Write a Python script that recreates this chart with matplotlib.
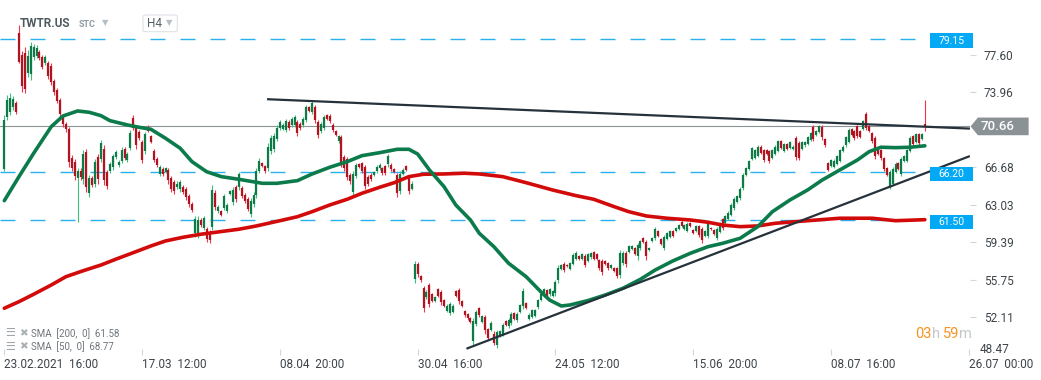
import numpy as np
import matplotlib
matplotlib.use("Agg")
import matplotlib.pyplot as plt
from matplotlib.patches import Rectangle, Polygon, FancyBboxPatch

plt.rcParams['font.family'] = ['Roboto', 'DejaVu Sans']
plt.rcParams['lines.scale_dashes'] = False

# H4 candles, TWTR.US
opens = [66.5, 71.6, 72.1, 72.5, 72.9, 79.7, 77.6, 77.8, 75.9, 75.8,
         77.4, 77.5, 77.9, 77.4, 76.8, 76.8, 76.5, 75.1, 74.2, 73.2,
         71.6, 70.9, 70.4, 67.6, 67.2, 65.6, 66.3, 65.5, 68.2, 64.2,
         65.6, 65.1, 67.7, 67.5, 68.5, 66.2, 66.3, 66.7, 67.7, 66.9,
         67.3, 68.5, 67.4, 68.6, 71.5, 70.5, 70.1, 69.1, 68.3, 70.6,
         69.7, 68.3, 67.5, 66.0, 66.5, 66.2, 66.4, 65.6, 65.2, 64.8,
         64.6, 64.8, 64.6, 63.9, 63.1, 60.3, 60.2, 61.5, 60.8, 60.7,
         60.4, 60.9, 64.2, 62.4, 62.4, 62.7, 62.4, 64.1, 63.3, 64.8,
         64.8,
         64.7, 64.0, 63.6, 62.1, 63.1, 64.0, 66.3, 67.1, 66.8, 66.6,
         68.3, 68.5, 69.4, 70.5, 70.4, 70.3, 71.1, 70.8, 70.8, 71.1,
         70.9, 70.8, 71.3, 72.5, 72.1, 72.5, 71.1, 70.2, 70.5, 71.8,
         71.7, 70.8, 70.2, 69.2, 69.6, 67.7, 67.5, 65.9, 64.3, 65.8,
         67.0, 67.1, 66.7, 65.7, 65.9, 65.9, 66.3, 66.6, 66.6, 66.8,
         67.0, 66.9, 66.5, 65.9, 64.4, 66.0, 66.8, 65.6, 64.6,
         55.8, 57.3, 56.1, 54.9, 54.1, 55.2, 54.3, 53.7, 54.8, 54.5,
         53.8, 52.7, 52.5, 52.6, 54.6, 54.7, 53.7, 52.7, 52.4,
         52.0, 49.8, 51.4, 53.0, 51.6, 52.1, 50.9, 50.8, 50.5, 49.4,
         50.3, 50.5, 51.7, 51.2, 51.5, 52.5, 51.8, 52.6, 53.2, 53.5,
         51.9, 52.1, 52.2, 53.1, 53.8, 54.2, 54.7, 54.3, 54.2, 54.4,
         55.7, 56.8, 57.3, 57.2, 56.8, 57.3, 57.8, 58.0, 57.8, 58.0,
         57.6, 57.9, 58.4, 58.2, 57.7, 57.6, 57.6, 57.4, 56.9, 56.9,
         56.9, 56.2, 57.4, 58.3, 58.4, 58.7, 58.8, 58.0, 58.8, 59.8,
         59.4, 58.6, 59.5, 59.8, 60.5, 59.7, 58.8, 59.7, 59.9, 60.5,
         60.5, 60.7, 61.4, 60.7, 60.5, 61.3, 60.6, 60.5, 61.0,
         60.7, 60.0, 60.0, 60.8, 60.6, 59.8, 60.4, 61.6, 61.3, 61.6,
         62.0, 62.7, 63.3, 63.7, 64.7, 65.9, 66.5, 67.5, 67.6, 67.8,
         68.7, 68.4, 68.4, 68.3, 67.6, 68.0, 68.3, 69.2, 68.3, 68.9,
         68.6, 68.5, 69.5, 69.0, 68.5, 68.8, 68.9, 69.3, 70.6, 69.8,
         70.1, 70.6, 69.4, 67.1, 66.8, 66.7, 67.0, 67.3, 68.3, 68.8,
         69.1, 70.4, 70.2, 70.7, 70.2, 70.4, 71.9, 70.7, 70.0, 69.5,
         68.4, 68.4, 67.6, 66.6, 64.8, 65.1, 66.2, 67.1, 66.0, 67.3,
         67.3, 68.3, 69.7, 69.1, 69.9, 69.4, 70.9]

highs = [71.8, 73.7, 73.9, 73.6, 73.1, 80.5, 78.0, 78.4, 78.1, 78.9,
         78.7, 78.6, 78.1, 77.6, 77.6, 77.0, 76.8, 75.3, 74.4, 73.4,
         71.8, 71.1, 70.6, 67.9, 67.5, 66.6, 66.6, 68.4, 68.5, 65.9,
         65.8, 67.5, 68.0, 69.3, 68.8, 66.4, 67.2, 68.0, 68.4, 67.4,
         68.7, 68.7, 68.2, 70.3, 71.8, 70.8, 70.3, 69.3, 70.1, 70.8,
         69.8, 68.5, 67.7, 66.9, 66.7, 66.7, 66.6, 65.8, 65.4, 65.3,
         65.4, 65.0, 64.8, 64.1, 63.3, 61.9, 61.9, 61.7, 61.9, 60.9,
         60.6, 65.0, 64.5, 63.0, 62.5, 64.1, 63.2, 64.5, 64.8, 65.0,
         66.2,
         64.9, 64.2, 63.8, 63.7, 64.3, 66.6, 67.6, 67.2, 66.9, 69.0,
         69.8, 70.0, 70.8, 71.3, 71.0, 71.4, 71.3, 71.6, 71.8, 71.3,
         71.1, 71.6, 72.7, 72.6, 73.1, 72.7, 71.3, 71.1, 71.8, 71.9,
         71.9, 71.0, 70.3, 69.8, 69.8, 67.9, 67.7, 66.1, 66.3, 67.1,
         67.1, 67.2, 66.9, 65.9, 66.1, 66.3, 66.9, 67.1, 66.7, 66.9,
         68.0, 67.1, 66.6, 66.1, 66.3, 66.6, 66.9, 65.8, 65.3,
         57.6, 57.5, 56.2, 55.1, 54.7, 55.4, 54.4, 54.2, 54.9, 54.7,
         53.9, 53.4, 53.6, 53.4, 54.7, 54.9, 53.8, 52.8, 52.5,
         52.1, 52.0, 52.8, 53.1, 52.3, 52.3, 51.0, 51.7, 50.7, 50.8,
         50.8, 51.5, 51.8, 52.0, 52.6, 52.6, 52.6, 53.4, 54.9, 53.6,
         52.5, 52.9, 52.9, 53.9, 54.4, 54.9, 54.8, 54.9, 54.7, 55.7,
         57.2, 57.3, 57.5, 57.3, 57.5, 58.3, 58.5, 58.1, 58.3, 58.2,
         58.3, 58.4, 58.5, 58.3, 57.8, 57.8, 57.7, 57.5, 57.3, 57.0,
         57.0, 58.6, 58.5, 58.5, 59.1, 59.1, 58.9, 59.3, 59.6, 59.9,
         59.6, 58.9, 59.9, 60.9, 60.6, 59.8, 60.1, 60.4, 60.6, 60.6,
         60.9, 61.2, 61.5, 61.2, 61.4, 61.4, 60.7, 61.1, 61.1,
         60.9, 60.6, 61.5, 60.9, 60.7, 60.9, 61.4, 61.7, 62.0, 62.4,
         63.2, 63.8, 64.0, 64.8, 66.1, 66.7, 67.4, 68.7, 68.5, 68.8,
         68.8, 68.5, 68.5, 68.4, 68.5, 68.8, 69.3, 69.3, 69.0, 69.0,
         69.2, 68.8, 69.7, 69.2, 69.2, 69.2, 69.7, 70.1, 70.8, 70.3,
         70.8, 70.8, 69.5, 67.2, 67.5, 67.5, 67.9, 68.5, 68.8, 69.7,
         70.5, 70.5, 70.3, 70.8, 70.3, 71.3, 72.1, 70.8, 70.1, 69.7,
         68.5, 68.5, 67.7, 66.7, 66.4, 66.7, 67.2, 67.2, 67.7, 67.9,
         68.5, 69.7, 69.8, 70.0, 70.0, 70.0, 73.2]

lows = [66.3, 71.3, 71.8, 72.3, 71.9, 76.8, 74.0, 73.9, 75.5, 75.2,
        77.1, 77.3, 77.1, 76.2, 76.6, 75.3, 74.7, 73.7, 72.9, 71.6,
        70.6, 70.1, 66.7, 66.3, 65.4, 61.4, 65.4, 65.1, 64.3, 63.8,
        64.8, 64.8, 65.1, 67.2, 65.0, 64.6, 66.1, 66.4, 67.5, 66.7,
        67.1, 67.4, 67.2, 68.4, 70.3, 68.5, 69.3, 67.1, 68.0, 70.1,
        69.0, 67.2, 66.7, 65.8, 65.8, 66.1, 65.1, 64.3, 64.1, 64.6,
        64.3, 64.1, 63.5, 62.8, 62.3, 59.9, 59.8, 60.9, 60.6, 59.4,
        59.3, 60.6, 62.5, 62.2, 61.9, 62.5, 62.2, 64.0, 63.0, 63.3,
        64.5,
        63.7, 63.2, 62.4, 61.8, 62.8, 63.7, 66.1, 66.7, 66.1, 66.3,
        68.0, 68.2, 69.2, 70.3, 70.3, 70.1, 70.3, 70.6, 70.6, 69.7,
        70.3, 70.6, 71.1, 72.1, 71.9, 71.0, 69.5, 70.0, 70.3, 71.3,
        71.0, 70.1, 69.7, 69.0, 66.7, 66.3, 65.4, 65.1, 64.0, 65.6,
        66.6, 66.1, 64.6, 64.9, 65.3, 65.8, 66.1, 66.4, 65.9, 65.9,
        66.7, 66.3, 66.1, 63.8, 64.1, 65.9, 66.3, 64.1, 64.5,
        55.4, 56.0, 55.5, 52.6, 53.9, 53.1, 53.6, 53.6, 54.1, 53.3,
        53.1, 52.6, 52.3, 52.5, 54.1, 53.4, 53.1, 52.1, 51.8,
        51.5, 49.4, 51.2, 52.1, 51.5, 50.5, 49.9, 50.7, 49.4, 49.1,
        50.2, 50.3, 51.2, 51.0, 51.3, 51.8, 51.6, 52.5, 52.9, 52.9,
        51.8, 52.0, 52.1, 52.9, 53.7, 54.1, 54.1, 54.2, 54.1, 54.2,
        55.4, 56.7, 56.5, 57.0, 56.7, 57.2, 57.7, 57.7, 57.7, 57.0,
        57.5, 57.8, 57.7, 57.7, 56.7, 56.2, 57.2, 56.7, 56.8, 56.5,
        55.9, 55.9, 57.2, 57.0, 58.3, 58.6, 58.1, 57.7, 58.6, 59.3,
        57.7, 58.5, 59.4, 59.6, 59.9, 59.1, 58.6, 59.6, 59.8, 59.9,
        60.4, 60.6, 60.9, 60.6, 60.4, 60.9, 60.2, 60.4, 59.9,
        59.3, 59.9, 59.8, 60.6, 60.1, 59.6, 60.3, 60.6, 61.2, 61.5,
        61.9, 62.5, 63.2, 63.5, 64.5, 65.8, 66.4, 67.4, 67.5, 67.7,
        68.0, 67.2, 67.9, 67.1, 67.5, 67.9, 68.2, 68.5, 68.2, 68.4,
        68.5, 68.4, 67.4, 67.4, 68.4, 68.7, 68.8, 69.2, 69.2, 69.7,
        70.0, 69.3, 68.7, 66.3, 66.7, 66.6, 66.9, 67.2, 68.2, 68.7,
        69.0, 69.7, 69.3, 69.5, 69.5, 70.3, 70.3, 70.1, 69.0, 67.5,
        67.9, 67.4, 66.3, 65.8, 64.6, 65.0, 66.1, 66.4, 65.8, 67.2,
        67.2, 68.2, 68.8, 69.0, 68.8, 69.3, 70.2]

closes = [71.3, 73.2, 73.4, 73.3, 72.1, 76.9, 74.6, 74.3, 77.5, 78.5,
          78.4, 78.3, 77.3, 76.4, 77.4, 75.6, 75.0, 74.0, 73.1, 71.9,
          70.9, 70.4, 67.2, 66.6, 65.8, 66.3, 65.7, 68.0, 64.8, 65.6,
          65.0, 67.2, 65.5, 69.0, 65.4, 64.9, 67.0, 67.8, 68.2, 67.2,
          68.4, 67.6, 68.0, 70.0, 70.5, 68.8, 69.5, 67.4, 69.9, 70.2,
          69.1, 67.4, 66.9, 66.7, 66.0, 66.6, 65.4, 64.6, 64.4, 65.1,
          65.2, 64.3, 63.8, 63.1, 62.5, 61.6, 61.5, 61.1, 61.7, 59.7,
          59.6, 64.5, 62.8, 62.8, 62.0, 63.9, 63.0, 64.4, 64.5, 63.6,
          66.0,
          63.9, 63.4, 62.6, 63.4, 64.0, 66.3, 67.3, 66.8, 66.3, 68.7,
          69.5, 69.7, 70.5, 71.1, 70.8, 71.2, 70.5, 71.4, 71.6, 70.0,
          70.5, 71.4, 72.5, 72.2, 72.9, 71.3, 69.8, 70.9, 71.6, 71.4,
          71.2, 70.3, 69.8, 69.7, 67.1, 66.6, 65.7, 65.3, 66.0, 66.9,
          66.7, 66.3, 64.9, 65.1, 65.5, 66.2, 66.7, 66.9, 66.1, 66.1,
          67.8, 66.5, 66.2, 64.2, 66.0, 66.4, 66.4, 64.4, 65.1,
          57.3, 56.3, 55.7, 53.0, 54.5, 53.4, 53.7, 54.1, 54.2, 53.6,
          53.2, 53.2, 53.4, 53.2, 54.2, 53.7, 53.2, 52.3, 52.0,
          51.6, 51.7, 52.6, 52.3, 52.2, 50.8, 50.1, 51.5, 49.6, 50.6,
          50.7, 51.3, 51.3, 51.8, 52.4, 51.9, 52.4, 53.3, 54.6, 53.0,
          52.3, 52.8, 52.8, 53.8, 54.3, 54.8, 54.2, 54.8, 54.6, 55.5,
          56.9, 57.2, 56.7, 57.1, 57.4, 58.1, 58.3, 57.8, 58.2, 57.2,
          58.2, 58.3, 57.8, 57.8, 56.9, 56.5, 57.3, 56.9, 57.2, 56.6,
          56.1, 58.3, 58.3, 57.3, 59.0, 59.0, 58.2, 59.1, 59.5, 59.4,
          58.0, 58.8, 59.8, 60.7, 60.0, 59.2, 59.9, 60.3, 60.5, 60.0,
          60.8, 61.1, 61.0, 61.1, 61.2, 61.0, 60.3, 61.0, 60.1,
          59.6, 60.5, 61.3, 60.7, 60.2, 60.7, 61.2, 60.8, 61.9, 62.2,
          63.0, 63.6, 63.9, 64.6, 65.9, 66.6, 67.3, 68.6, 68.4, 68.7,
          68.1, 67.4, 68.0, 67.3, 68.4, 68.7, 69.2, 68.6, 68.9, 68.5,
          69.1, 68.7, 67.7, 67.6, 69.1, 69.1, 69.6, 70.0, 69.4, 70.2,
          70.7, 69.6, 68.8, 66.4, 67.4, 67.3, 67.8, 68.4, 68.7, 69.6,
          70.3, 69.8, 69.5, 69.7, 69.6, 71.2, 70.5, 70.2, 69.2, 67.8,
          68.0, 67.6, 66.5, 65.9, 66.2, 66.5, 67.0, 66.5, 67.5, 67.8,
          68.4, 69.5, 68.9, 69.9, 69.0, 69.9, 70.66]

# moving averages sampled along the bar index
sma50_idx = [0, 5, 10, 16, 20, 25, 29, 33, 36, 42, 46, 50, 55, 60, 64, 69, 74, 80, 88, 93,
             100, 105, 111, 117, 122, 128, 134, 138, 141, 145, 150, 154, 159, 162, 167, 172, 178, 183, 186, 190,
             193, 199, 205, 211, 217, 222, 228, 234, 240, 245, 251, 257, 262, 268, 274, 279, 285, 291, 295, 299,
             304, 309, 314]
sma50_val = [63.43, 65.77, 68.04, 70.63, 71.67, 72.16, 72.03, 71.70, 71.22, 70.80,
             70.57, 70.38, 69.50, 68.53, 67.23, 66.25, 65.77, 65.51, 65.12, 65.12,
             65.38, 66.03, 66.68, 67.23, 67.81, 68.10, 68.43, 68.43, 67.97, 66.42,
             64.79, 63.01, 61.55, 60.26, 58.95, 57.34, 56.03, 54.57, 53.76, 53.18,
             53.28, 53.70, 54.25, 54.90, 55.78, 56.68, 57.56, 58.31, 58.95, 59.28,
             59.77, 60.90, 62.36, 63.50, 64.47, 65.44, 66.42, 67.39, 68.20, 68.63,
             68.59, 68.63, 68.77]
sma200_idx = [0, 5, 10, 16, 21, 27, 33, 38, 44, 50, 55, 61, 67, 72, 80, 86, 94, 100, 105, 111,
              117, 122, 128, 133, 138, 143, 150, 157, 162, 170, 178, 187, 195, 201, 208, 213, 219, 226, 234, 240,
              245, 251, 257, 263, 274, 285, 296, 304, 314]
sma200_val = [52.96, 53.60, 54.32, 55.22, 56.03, 56.62, 57.17, 57.73, 58.37, 59.02,
              59.51, 59.87, 60.16, 60.35, 60.65, 60.97, 61.48, 61.87, 62.36, 63.01,
              63.57, 64.15, 64.73, 65.18, 65.77, 66.00, 66.03, 66.10, 66.03, 65.77,
              65.18, 64.47, 63.92, 63.57, 62.85, 62.36, 61.94, 61.72, 61.55, 61.33,
              61.06, 60.90, 60.97, 61.23, 61.48, 61.72, 61.72, 61.48, 61.58]

# drawn trend lines and levels
resist_idx = [90, 329]
resist_val = [73.30, 70.45]
support_idx = [158, 329]
support_val = [49.06, 67.73]
levels = [79.15, 66.20, 61.50]
last_price = 70.66

ytick_vals = [77.60, 73.96, 66.68, 63.03, 59.39, 55.75, 52.11]
xtick_idx = [0, 47, 94, 141, 188, 235, 282, 329]
xtick_labels = ['23.02.2021  16:00', '17.03  12:00', '08.04  20:00', '30.04  16:00',
                '24.05  12:00', '15.06  20:00', '08.07  16:00', '26.07  00:00']

W, H = 1041, 380


def fx(px):
    return px / W


def fy(py):
    return 1 - py / H


fig = plt.figure(figsize=(W / 100, H / 100), dpi=100)
fig.patch.set_facecolor('white')
ax = fig.add_axes([0, fy(355.1), fx(970), 355.1 / H])
ax.set_xlim(-1.47, 329.4)
ax.set_ylim(48.40, 82.96)
for s in ax.spines.values():
    s.set_visible(False)

# candles
x = np.arange(len(closes))
o = np.array(opens)
c = np.array(closes)
up = c >= o
wick_col = np.where(up, '#3cbf7c', '#f5334a')
body_col = np.where(up, '#0e7a47', '#b0141f')
ax.vlines(x, lows, highs, colors=wick_col, lw=0.8, zorder=2)
ax.vlines(x, np.minimum(o, c), np.maximum(o, c), colors=body_col, lw=1.6, zorder=3)

# last price line + levels
ax.axhline(last_price, color='#8c9397', lw=0.8, zorder=1)
for lv in levels:
    ax.plot([-1.47, 315.2], [lv, lv], color='#29b0ef', lw=1.0, dashes=(10.8, 10.8), zorder=1)
    ax.add_patch(Rectangle((315.7, lv - 0.85), 14.6, 1.40, fc='#03a9f4', ec='none',
                           clip_on=False, zorder=6))
    ax.text(323.0, lv - 0.15, f'{lv:.2f}', color='white', fontsize=7.5,
            ha='center', va='center', clip_on=False, zorder=7)

# moving averages
ax.plot(sma200_idx, sma200_val, color='#d20a0a', lw=2.6, solid_capstyle='round', zorder=4)
ax.plot(sma50_idx, sma50_val, color='#0b7b4c', lw=2.6, solid_capstyle='round', zorder=4)

# trend lines
ax.plot(resist_idx, resist_val, color='#26323b', lw=1.6, zorder=5)
ax.plot(support_idx, support_val, color='#26323b', lw=1.6, zorder=5)

# price tag
tag = Polygon([(329.6, last_price), (332.1, last_price + 0.86), (349.4, last_price + 0.86),
               (349.4, last_price - 0.86), (332.1, last_price - 0.86)],
              closed=True, fc='#8a9296', ec='none', clip_on=False, zorder=6)
ax.add_patch(tag)
ax.text(333.1, last_price - 0.05, f'{last_price:.2f}', color='white', fontsize=9.5,
        fontweight='medium', ha='left', va='center', clip_on=False, zorder=7)

# axes ticks
ax.yaxis.tick_right()
ax.set_yticks(ytick_vals)
ax.set_yticklabels([f'{v:.2f}' for v in ytick_vals])
ax.tick_params(axis='y', direction='out', length=4, color='#d3d7da', pad=6,
               labelsize=8.5, labelcolor='#3d4449')
ax.annotate('48.47', xy=(1, 48.47), xycoords=('axes fraction', 'data'),
            xytext=(7.2, 3.2), textcoords='offset points', fontsize=8.5,
            color='#3d4449', ha='left', va='center', annotation_clip=False)
ax.set_xticks(xtick_idx)
ax.set_xticklabels(xtick_labels, ha='left')
ax.tick_params(axis='x', direction='in', length=4, color='#d3d7da', pad=2,
               labelsize=8.5, labelcolor='#3d4449')

# header
fig.text(fx(20), fy(23.5), 'TWTR.US', fontsize=8.5, fontweight='bold', color='#4f5a61', va='center')
fig.text(fx(79), fy(24.5), 'STC', fontsize=6.5, fontweight='bold', color='#8c9ba5', va='center')
fig.text(fx(101.5), fy(22.5), '▼', fontsize=6, color='#b5bec4', va='center')
fig.patches.append(FancyBboxPatch((fx(143), fy(31.7)), fx(34.3), 16.7 / H,
                                  boxstyle='round,pad=0,rounding_size=0.004',
                                  transform=fig.transFigure, fc='white', ec='#dde2e6', lw=0.8))
fig.text(fx(147), fy(23.5), 'H4', fontsize=8.5, color='#555e64', va='center')
fig.text(fx(165.5), fy(22.5), '▼', fontsize=6, color='#b5bec4', va='center')

# indicator legend
for yy, label in [(333.3, 'SMA  [200,  0]  61.58'), (346.7, 'SMA  [50,  0]  68.77')]:
    fig.text(fx(5.5), fy(yy), '☰', fontsize=8, color='#a0a6aa', va='center')
    fig.text(fx(19.5), fy(yy), '✖', fontsize=7.5, color='#aab0b4', va='center')
    fig.text(fx(31), fy(yy), label, fontsize=7, color='#6f767a', va='center')

# countdown
renderer = fig.canvas.get_renderer()
xpos = fx(915)
for piece, col in [('03', '#f7931e'), ('h ', '#c4c7c9'), ('59', '#f7931e'), ('m', '#c4c7c9')]:
    t = fig.text(xpos, fy(334.3), piece, fontsize=10.5, color=col, va='center')
    bb = t.get_window_extent(renderer)
    xpos = bb.x1 / fig.bbox.width

fig.savefig('out.png', dpi=100)
